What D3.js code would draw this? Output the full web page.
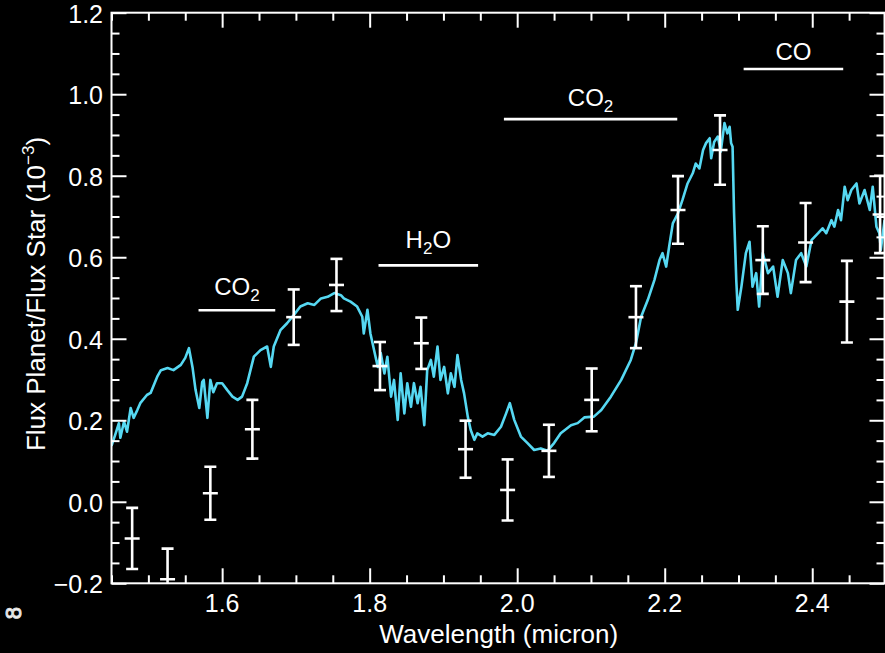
<!DOCTYPE html>
<html>
<head>
<meta charset="utf-8">
<script src="https://cdn.jsdelivr.net/npm/d3@7"></script>
<style>
  html, body { margin: 0; padding: 0; background: #000; }
  svg { display: block; }
  text { font-family: "Liberation Sans", Arial, Helvetica, sans-serif; fill: #fff; }
</style>
</head>
<body>
<svg id="chart" width="885" height="653"></svg>
<script>
// ---- model spectrum (cyan curve) ----
const wavelength = [1.450,1.455,1.460,1.462,1.467,1.471,1.476,1.480,1.485,1.489,1.498,1.503,1.512,1.517,1.526,1.534,1.544,1.550,1.555,1.560,1.564,1.569,1.573,1.575,1.580,1.584,1.588,1.593,1.600,1.607,1.614,1.621,1.627,1.634,1.643,1.652,1.661,1.666,1.670,1.679,1.688,1.697,1.706,1.716,1.725,1.734,1.743,1.752,1.761,1.765,1.774,1.783,1.790,1.792,1.797,1.801,1.806,1.811,1.815,1.820,1.824,1.829,1.833,1.838,1.842,1.847,1.851,1.856,1.860,1.865,1.869,1.874,1.878,1.883,1.887,1.892,1.896,1.901,1.906,1.910,1.915,1.919,1.924,1.928,1.933,1.937,1.942,1.946,1.953,1.960,1.969,1.978,1.985,1.990,1.996,2.005,2.014,2.023,2.032,2.041,2.050,2.059,2.073,2.082,2.091,2.104,2.114,2.127,2.141,2.154,2.161,2.168,2.177,2.186,2.193,2.197,2.202,2.206,2.211,2.218,2.224,2.231,2.238,2.242,2.247,2.252,2.256,2.261,2.263,2.267,2.272,2.276,2.281,2.285,2.288,2.290,2.292,2.294,2.297,2.299,2.304,2.310,2.315,2.319,2.324,2.328,2.333,2.340,2.347,2.353,2.360,2.367,2.371,2.378,2.385,2.392,2.399,2.408,2.414,2.419,2.426,2.430,2.435,2.439,2.444,2.448,2.453,2.460,2.464,2.471,2.478,2.482,2.487,2.491,2.493,2.498];
const modelFlux = [0.137,0.164,0.193,0.157,0.197,0.172,0.230,0.206,0.225,0.242,0.262,0.267,0.307,0.323,0.328,0.323,0.336,0.353,0.377,0.328,0.274,0.230,0.294,0.299,0.206,0.299,0.269,0.291,0.291,0.274,0.258,0.250,0.258,0.291,0.356,0.372,0.381,0.331,0.381,0.421,0.438,0.458,0.479,0.487,0.483,0.499,0.503,0.512,0.507,0.499,0.491,0.479,0.454,0.413,0.471,0.413,0.372,0.331,0.365,0.315,0.356,0.258,0.299,0.201,0.315,0.217,0.291,0.233,0.291,0.242,0.282,0.188,0.323,0.348,0.307,0.381,0.299,0.331,0.266,0.315,0.282,0.360,0.299,0.266,0.209,0.176,0.152,0.168,0.160,0.168,0.164,0.184,0.217,0.242,0.201,0.160,0.144,0.127,0.131,0.125,0.144,0.168,0.188,0.193,0.207,0.209,0.225,0.258,0.299,0.348,0.389,0.454,0.495,0.544,0.593,0.610,0.577,0.626,0.683,0.708,0.740,0.781,0.806,0.830,0.818,0.863,0.880,0.892,0.843,0.883,0.896,0.859,0.929,0.904,0.920,0.880,0.871,0.708,0.544,0.471,0.528,0.610,0.638,0.528,0.561,0.479,0.610,0.561,0.577,0.503,0.593,0.561,0.512,0.593,0.610,0.577,0.642,0.659,0.671,0.659,0.691,0.675,0.716,0.691,0.773,0.740,0.765,0.781,0.732,0.765,0.716,0.773,0.675,0.659,0.618,0.691];

// ---- observed points with error bars ----
const obsWavelength = [1.478,1.526,1.584,1.641,1.697,1.755,1.814,1.870,1.930,1.987,2.043,2.101,2.161,2.218,2.275,2.333,2.391,2.447,2.492];
const obsFlux       = [-0.090,-0.190,0.021,0.178,0.453,0.532,0.333,0.389,0.129,0.029,0.125,0.250,0.453,0.716,0.863,0.593,0.636,0.491,0.705];
const obsError      = [0.075,0.075,0.065,0.072,0.068,0.064,0.059,0.063,0.070,0.075,0.064,0.077,0.076,0.083,0.085,0.083,0.097,0.100,0.095];

// ---- absorption feature annotations ----
const featureNames = ["CO_2", "H_2O", "CO_2", "CO"];
const featureStart = [1.568, 1.812, 1.982, 2.307];
const featureEnd   = [1.672, 1.947, 2.217, 2.442];
const featureLevel = [0.470, 0.580, 0.939, 1.062];
const featureTextLevel = [0.508, 0.622, 0.971, 1.084];

// ---- ticks ----
const xTicks = [1.6, 1.8, 2.0, 2.2, 2.4];
const xMinorTicks = [1.45,1.5,1.55,1.65,1.7,1.75,1.85,1.9,1.95,2.05,2.1,2.15,2.25,2.3,2.35,2.45];
const yTicks = [-0.2, 0.0, 0.2, 0.4, 0.6, 0.8, 1.0, 1.2];
const yMinorTicks = [-0.15,-0.1,-0.05,0.05,0.1,0.15,0.25,0.3,0.35,0.45,0.5,0.55,0.65,0.7,0.75,0.85,0.9,0.95,1.05,1.1,1.15];

const xTitle = "Wavelength (micron)";
const yTitle = "Flux Planet/Flux Star (10";
const ySup = "\u22123";

// ---------------------------------------------------------------
(function () {
const svg = d3.select("#chart");
const W = 885, H = 653;
svg.append("rect").attr("width", W).attr("height", H).attr("fill", "#000");

const pL = 111.5, pR = 884.5, pT = 12.7, pB = 583.3;
const x = d3.scaleLinear().domain([1.45, 2.5]).range([111.5, 886]);
const y = d3.scaleLinear().domain([-0.2, 1.2]).range([pB, pT]);

const fmt = d3.format(".1f");
const AX = "#fff";

function styleAxis(g) {
  g.select(".domain").remove();
  g.selectAll(".tick line").attr("stroke", AX).attr("stroke-width", 2);
}

// clip
svg.append("defs").append("clipPath").attr("id", "plotclip")
  .append("rect").attr("x", pL).attr("y", pT).attr("width", pR - pL).attr("height", pB - pT);

// curve
const plot = svg.append("g").attr("clip-path", "url(#plotclip)");
const line = d3.line().x((d, i) => x(wavelength[i])).y((d, i) => y(modelFlux[i]));
plot.append("path")
  .attr("d", line(modelFlux))
  .attr("fill", "none")
  .attr("stroke", "#56d8f2")
  .attr("stroke-width", 2.6)
  .attr("stroke-linejoin", "round");

// error bars
const eb = plot.append("g").attr("stroke", "#fff").attr("stroke-width", 2.6).attr("fill", "none");
obsWavelength.forEach((w, i) => {
  const cx = x(w), y0 = y(obsFlux[i] - obsError[i]), y1 = y(obsFlux[i] + obsError[i]), yc = y(obsFlux[i]);
  eb.append("line").attr("x1", cx).attr("x2", cx).attr("y1", y0).attr("y2", y1);
  eb.append("line").attr("x1", cx - 6).attr("x2", cx + 6).attr("y1", y0).attr("y2", y0);
  eb.append("line").attr("x1", cx - 6).attr("x2", cx + 6).attr("y1", y1).attr("y2", y1);
  eb.append("line").attr("x1", cx - 7.5).attr("x2", cx + 7.5).attr("y1", yc).attr("y2", yc);
});

// axes: major + minor, all inward
const axes = [
  svg.append("g").attr("transform", `translate(0,${pB})`).call(d3.axisBottom(x).tickValues(xTicks).tickSize(-15).tickFormat("")),
  svg.append("g").attr("transform", `translate(0,${pB})`).call(d3.axisBottom(x).tickValues(xMinorTicks).tickSize(-8).tickFormat("")),
  svg.append("g").attr("transform", `translate(0,${pT})`).call(d3.axisTop(x).tickValues(xTicks).tickSize(-15).tickFormat("")),
  svg.append("g").attr("transform", `translate(0,${pT})`).call(d3.axisTop(x).tickValues(xMinorTicks).tickSize(-8).tickFormat("")),
  svg.append("g").attr("transform", `translate(${pL},0)`).call(d3.axisLeft(y).tickValues(yTicks).tickSize(-15).tickFormat("")),
  svg.append("g").attr("transform", `translate(${pL},0)`).call(d3.axisLeft(y).tickValues(yMinorTicks).tickSize(-8).tickFormat("")),
  svg.append("g").attr("transform", `translate(${pR},0)`).call(d3.axisRight(y).tickValues(yTicks).tickSize(-15).tickFormat("")),
  svg.append("g").attr("transform", `translate(${pR},0)`).call(d3.axisRight(y).tickValues(yMinorTicks).tickSize(-8).tickFormat(""))
];
axes.forEach(styleAxis);
svg.append("rect").attr("x", pL).attr("y", pT).attr("width", pR - pL).attr("height", pB - pT)
  .attr("fill", "none").attr("stroke", AX).attr("stroke-width", 2);

// tick labels
svg.append("g").selectAll("text").data(xTicks).join("text")
  .attr("x", d => x(d)).attr("y", 612)
  .attr("text-anchor", "middle").attr("font-size", 25)
  .text(d => fmt(d));
svg.append("g").selectAll("text").data(yTicks).join("text")
  .attr("x", 103).attr("y", d => y(d) + 10)
  .attr("text-anchor", "end").attr("font-size", 25)
  .text(d => fmt(d));

// axis titles
svg.append("text").attr("x", (pL + 886) / 2).attr("y", 643)
  .attr("text-anchor", "middle").attr("font-size", 26).text(xTitle);
const yt = svg.append("text")
  .attr("transform", `translate(45,${(pT + pB) / 2 - 4}) rotate(-90)`)
  .attr("text-anchor", "middle").attr("font-size", 26);
yt.append("tspan").text(yTitle);
yt.append("tspan").attr("font-size", 17).attr("dy", -11).text(ySup);
yt.append("tspan").attr("dy", 11).text(")");

// feature annotations
featureNames.forEach((name, i) => {
  svg.append("line")
    .attr("x1", x(featureStart[i])).attr("x2", x(featureEnd[i]))
    .attr("y1", y(featureLevel[i])).attr("y2", y(featureLevel[i]))
    .attr("stroke", "#fff").attr("stroke-width", 2.6);
  const t = svg.append("text")
    .attr("x", (x(featureStart[i]) + x(featureEnd[i])) / 2)
    .attr("y", y(featureTextLevel[i]))
    .attr("text-anchor", "middle").attr("font-size", 24);
  const parts = name.split(/_(\d)/);
  parts.forEach((p, k) => {
    if (p === "") return;
    if (k % 2 === 1) {
      t.append("tspan").attr("font-size", 17).attr("dy", 6).text(p);
    } else {
      const s = t.append("tspan").text(p);
      if (k > 0) s.attr("dy", -6);
    }
  });
});

// stray glyph at lower-left edge of the original figure
svg.append("text").attr("transform", "translate(21,613) rotate(-90)")
  .attr("text-anchor", "middle").attr("font-size", 22).attr("fill", "none")
  .attr("stroke", "#ddd").attr("stroke-width", 1.1).text("8");
})();
</script>
</body>
</html>
